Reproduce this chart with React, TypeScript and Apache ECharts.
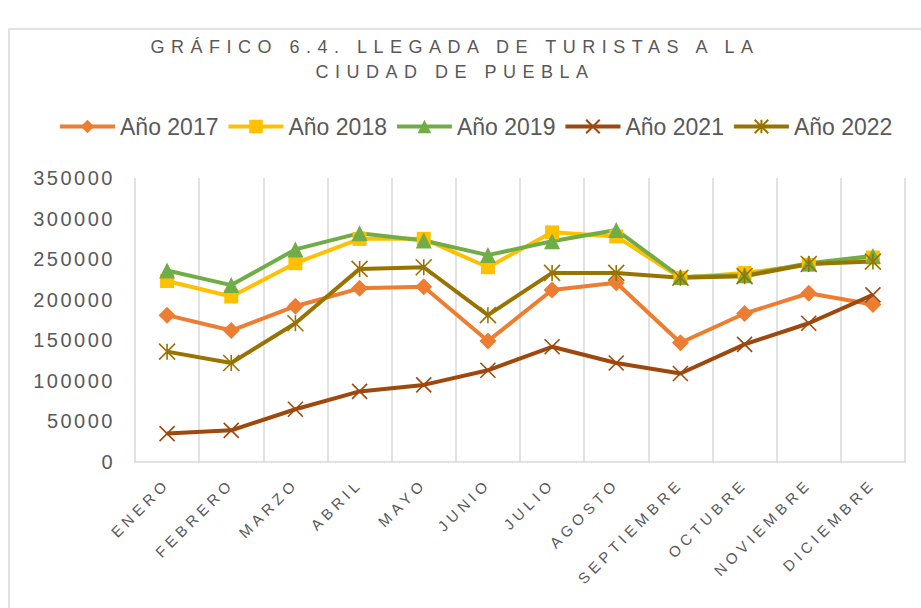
import React, { useEffect, useRef } from "react";
import * as echarts from "echarts";

const months = ["ENERO", "FEBRERO", "MARZO", "ABRIL", "MAYO", "JUNIO", "JULIO", "AGOSTO", "SEPTIEMBRE", "OCTUBRE", "NOVIEMBRE", "DICIEMBRE"];
const y2017 = [181000, 162000, 192000, 214000, 216000, 149000, 212000, 221000, 147000, 183000, 208000, 194000];
const y2018 = [223000, 204000, 245000, 275000, 275000, 240000, 283000, 278000, 227000, 233000, 243000, 252000];
const y2019 = [236000, 218000, 262000, 282000, 273000, 255000, 272000, 286000, 228000, 230000, 245000, 254000];
const y2021 = [35000, 39000, 65000, 87000, 95000, 113000, 142000, 122000, 109000, 145000, 171000, 206000];
const y2022 = [136000, 122000, 171000, 238000, 240000, 181000, 233000, 233000, 227000, 229000, 244000, 247000];
const titleLines = ["GRÁFICO 6.4. LLEGADA DE TURISTAS A LA", "CIUDAD DE PUEBLA"];

const TXT = "#595959";
const CROSS = "path://M0 0 L10 10 M10 0 L0 10";
const STAR = "path://M0 0 L10 10 M10 0 L0 10 M5 0 L5 10";

export default function App() {
  const ref = useRef<HTMLDivElement>(null);
  useEffect(() => {
    if (!ref.current) return;
    const chart = echarts.init(ref.current, undefined, { renderer: "svg" });
    const mk = (name: string, data: number[], color: string, symbol: string, size: number, stroke = false) => ({
      name,
      type: "line",
      data,
      color,
      symbol,
      symbolSize: size,
      lineStyle: { width: 4, color },
      itemStyle: stroke ? { color, borderColor: color, borderWidth: 1.6 } : { color, borderWidth: 0 },
      emphasis: { disabled: true },
    });
    chart.setOption({
      animation: false,
      graphic: [
        { type: "rect", shape: { x: 9, y: 29, width: 940, height: 620 }, style: { fill: "none", stroke: "#d9d9d9", lineWidth: 1.5 }, silent: true },
        ...titleLines.map((t, i) => ({
          type: "text",
          x: 455,
          y: 47 + i * 25,
          style: { text: t, fill: TXT, fontSize: 18, fontFamily: "TitleSp, Liberation Sans", textAlign: "center", textVerticalAlign: "middle" },
        })),
      ],
      legend: {
        top: 110,
        left: 53,
        itemWidth: 55,
        itemHeight: 17,
        itemGap: 8,
        lineStyle: { width: 4 },
        textStyle: { color: TXT, fontSize: 23, fontFamily: "Liberation Sans" },
        data: ["Año 2017", "Año 2018", "Año 2019", "Año 2021", "Año 2022"],
      },
      grid: { left: 135, right: 16, top: 178, bottom: 146, containLabel: false },
      xAxis: {
        type: "category",
        data: months,
        boundaryGap: true,
        axisLine: { lineStyle: { color: "#d9d9d9", width: 1.5 } },
        axisTick: { show: false },
        splitLine: { show: true, lineStyle: { color: "#d9d9d9", width: 1.5 } },
        axisLabel: { rotate: 45, color: TXT, fontSize: 15, fontFamily: "AxisSp, Liberation Sans", margin: 19, interval: 0 },
      },
      yAxis: {
        type: "value",
        min: 0,
        max: 350000,
        interval: 50000,
        axisLine: { show: false },
        axisTick: { show: false },
        splitLine: { show: false },
        axisLabel: { color: TXT, fontSize: 20, fontFamily: "YSp, Liberation Sans", margin: 20, formatter: (v: number) => String(v) },
      },
      series: [
        mk("Año 2017", y2017, "#ED7D31", "diamond", 17),
        mk("Año 2018", y2018, "#FFC000", "rect", 14),
        mk("Año 2019", y2019, "#70AD47", "triangle", 16),
        mk("Año 2021", y2021, "#9E480E", CROSS, 15, true),
        mk("Año 2022", y2022, "#997300", STAR, 16, true),
      ],
    });
    return () => chart.dispose();
  }, []);
  return (
    <>
      <style>{`text[style*="TitleSp"]{letter-spacing:6.5px;} text[style*="AxisSp"]{letter-spacing:4.5px;} text[style*="YSp"]{letter-spacing:2.5px;}`}</style>
      <div ref={ref} style={{ position: "absolute", left: 0, top: 0, width: 921, height: 608, background: "#fff" }} />
    </>
  );
}
